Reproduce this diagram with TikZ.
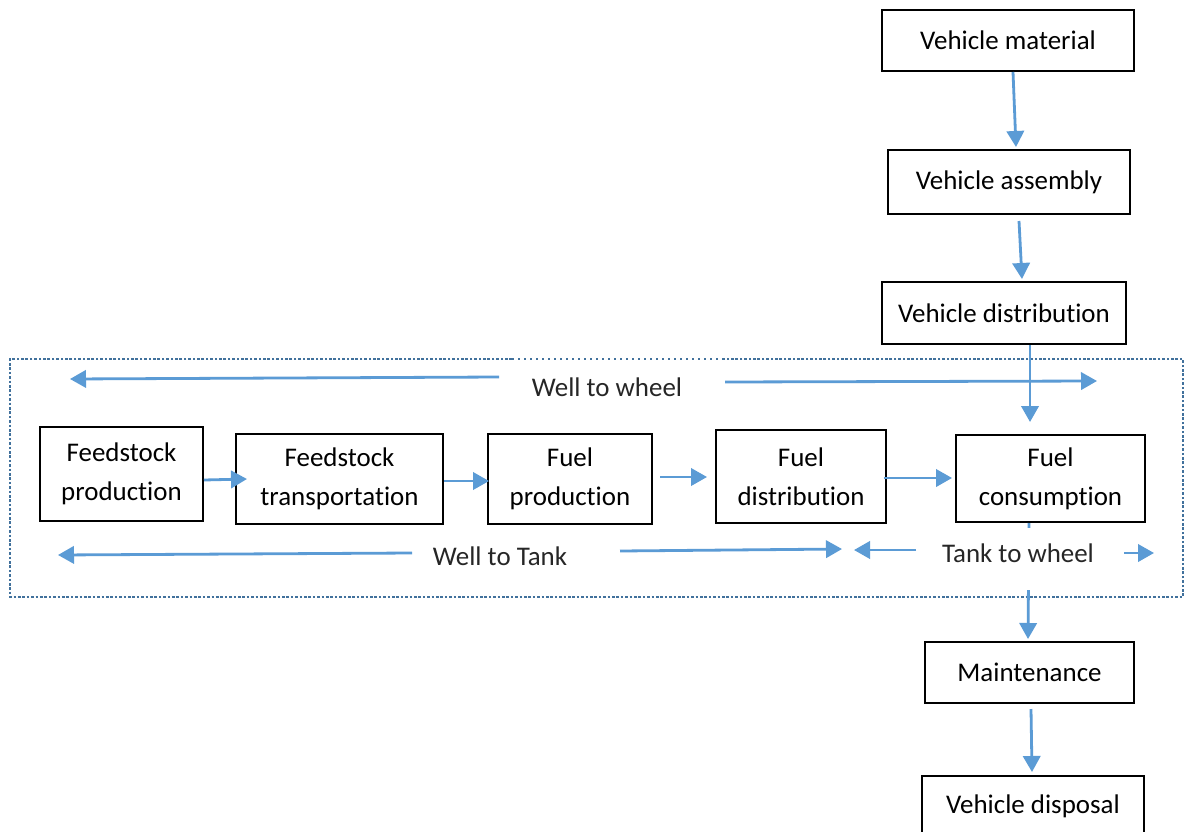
\documentclass[tikz,border=0pt]{standalone}
\usepackage{fontspec}
\setmainfont{Carlito}[Ligatures=NoCommon]
\usetikzlibrary{arrows.meta,calc}
\definecolor{arrowblue}{HTML}{5B9BD5}
\definecolor{dotblue}{HTML}{41719C}
\begin{document}
\begin{tikzpicture}[x=0.75pt,y=-0.75pt,
  box/.style={draw=black,line width=1.5pt,fill=white,align=center,inner sep=0pt,
    font=\fontsize{20.2}{29}\selectfont},
  flow/.style={draw=arrowblue,line width=2.1pt,-{Triangle[length=12pt,width=13pt]}},
  lbl/.style={text=black!85,inner sep=0pt,font=\fontsize{20.2}{24}\selectfont},
  dotline/.style={draw=dotblue,line width=2pt,dash pattern=on 2pt off 1.3pt}]
\useasboundingbox (0,0) rectangle (1184,831);
\clip (0,0) rectangle (1184,831);
\fill[white] (0,0) rectangle (1184,831);

% dotted frame
\draw[dotline] (512,359) -- (10,359) -- (10,597) -- (1183,597) -- (1183,359) -- (722,359);
\draw[draw=dotblue,line width=1pt,dash pattern=on 1.5pt off 3pt] (512,359) -- (722,359);

% boxes
\node[box,minimum width=189pt,minimum height=45.75pt] (vm) at (1008,40.5) {Vehicle material};
\node[box,minimum width=181.5pt,minimum height=48pt] (va) at (1009,182) {Vehicle assembly};
\node[box,minimum width=183pt,minimum height=46.5pt] (vd) at (1004,313) {Vehicle distribution};
\node[box,minimum width=122.25pt,minimum height=70.5pt] (fp) at (121.5,474) {Feedstock\\production};
\node[box,minimum width=155.25pt,minimum height=67.5pt] (ft) at (339.5,479) {Feedstock\\transportation};
\node[box,minimum width=123pt,minimum height=67.5pt] (fup) at (570,479) {Fuel\\production};
\node[box,minimum width=127.5pt,minimum height=69.75pt] (fd) at (801,476.5) {Fuel\\distribution};
\node[box,minimum width=141.75pt,minimum height=65.25pt] (fc) at (1050.5,478.5) {Fuel\\consumption};
\node[box,minimum width=156.75pt,minimum height=45.75pt] (mt) at (1029.5,672.5) {Maintenance};
\node[box,minimum width=166.5pt,minimum height=45pt] (vdp) at (1033,806) {Vehicle disposal};

% vertical flow
\draw[flow] ($(vm.south)+(5,0)$) -- ($(va.north)+(7,-2)$);
\draw[flow] ($(va.south)+(10,6)$) -- ($(vd.north)+(18,-2)$);
\draw[flow] ($(vd.south)+(26,0)$) -- ($(fc.north)+(-20.5,-12)$);
\draw[flow] ($(fc.south)+(-21.5,0)$) -- ($(mt.north)+(-1.5,-2)$);
\draw[flow] ($(mt.south)+(1.5,5)$) -- ($(vdp.north)+(-1,-3)$);

% horizontal flow
\draw[flow] ($(fp.east)+(0,6)$) -- ($(ft.west)+(12,0)$);
\draw[flow] ($(ft.east)+(0,2)$) -- ($(fup.west)+(2,2)$);
\draw[flow] ($(fup.east)+(7,-2)$) -- ($(fd.west)+(-8,0.5)$);
\draw[flow] ($(fd.east)+(-3,1.5)$) -- ($(fc.west)+(-3,-0.5)$);

% scope labels and arrows
\node[lbl] (wtw) at (607,387) {Well to wheel};
\coordinate (wtwL0) at (499,377);
\coordinate (wtwL1) at (70,379);
\coordinate (wtwR0) at (725,382);
\coordinate (wtwR1) at (1097,381);
\draw[flow] (wtwL0) -- (wtwL1);
\draw[flow] (wtwR0) -- (wtwR1);

\node[lbl] (wtt) at (500,556) {Well to Tank};
\coordinate (wttL0) at (412,553);
\coordinate (wttL1) at (58,555);
\coordinate (wttR0) at (620,551);
\coordinate (wttR1) at (842,549);
\draw[flow] (wttL0) -- (wttL1);
\draw[flow] (wttR0) -- (wttR1);

\node[lbl,anchor=base,fill=white,text height=25.5pt,text depth=21pt] (ttw) at (1018,562) {Tank to wheel};
\coordinate (ttwL0) at (916,550);
\coordinate (ttwL1) at (854,550);
\coordinate (ttwR0) at (1124,553);
\coordinate (ttwR1) at (1154,553);
\draw[flow] (ttwL0) -- (ttwL1);
\draw[flow] (ttwR0) -- (ttwR1);
\end{tikzpicture}
\end{document}
